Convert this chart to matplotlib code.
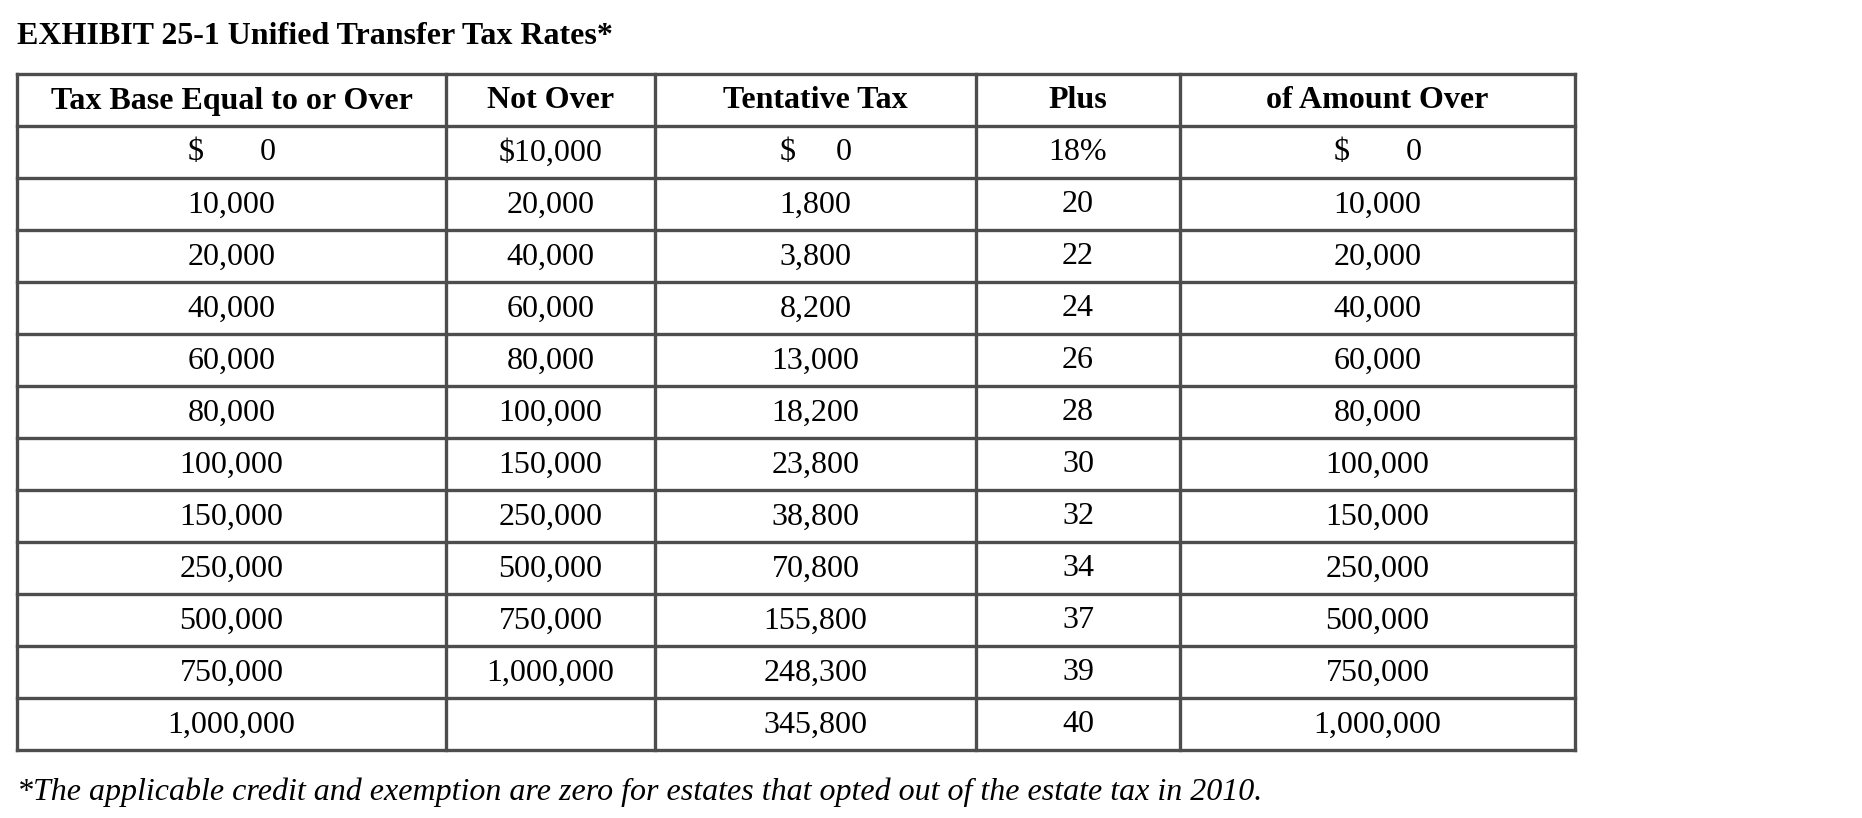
import matplotlib.pyplot as plt

title = "EXHIBIT 25-1 Unified Transfer Tax Rates*"
footnote = "*The applicable credit and exemption are zero for estates that opted out of the estate tax in 2010."
headers = ["Tax Base Equal to or Over", "Not Over", "Tentative Tax", "Plus", "of Amount Over"]

base_over = ["$       0", "10,000", "20,000", "40,000", "60,000", "80,000", "100,000",
             "150,000", "250,000", "500,000", "750,000", "1,000,000"]
not_over = ["$10,000", "20,000", "40,000", "60,000", "80,000", "100,000", "150,000",
            "250,000", "500,000", "750,000", "1,000,000", ""]
tentative = ["$     0", "1,800", "3,800", "8,200", "13,000", "18,200", "23,800",
             "38,800", "70,800", "155,800", "248,300", "345,800"]
plus = ["18%", "20", "22", "24", "26", "28", "30", "32", "34", "37", "39", "40"]
amount_over = ["$       0", "10,000", "20,000", "40,000", "60,000", "80,000", "100,000",
               "150,000", "250,000", "500,000", "750,000", "1,000,000"]

columns = [base_over, not_over, tentative, plus, amount_over]

# layout (pixels)
W, H = 1862, 818
col_edges = [17, 446, 655, 976, 1180, 1575]
top, head_bot, bottom = 74, 126, 750
n_rows = len(base_over)
row_h = (bottom - head_bot) / n_rows
row_edges = [top, head_bot] + [head_bot + row_h * (i + 1) for i in range(n_rows)]

fig = plt.figure(figsize=(W / 100, H / 100), dpi=100)
ax = fig.add_axes([0, 0, 1, 1])
ax.set_xlim(0, W)
ax.set_ylim(H, 0)
ax.axis("off")

serif = ["Liberation Serif", "DejaVu Serif"]
line_c = "#4d4d4d"
fs = 23

for y in row_edges:
    ax.plot([col_edges[0], col_edges[-1]], [y, y], color=line_c, lw=2.4, solid_capstyle="projecting")
for x in col_edges:
    ax.plot([x, x], [top, bottom], color=line_c, lw=2.4, solid_capstyle="projecting")

for j, h in enumerate(headers):
    cx = (col_edges[j] + col_edges[j + 1]) / 2
    ax.text(cx, (top + head_bot) / 2 + 1, h, family=serif, fontsize=fs, fontweight="bold",
            ha="center", va="center")
    for i, v in enumerate(columns[j]):
        cy = (row_edges[i + 1] + row_edges[i + 2]) / 2 + 1
        ax.text(cx, cy, v, family=serif, fontsize=fs, ha="center", va="center")

ax.text(17, 36, title, family=serif, fontsize=fs, fontweight="bold", ha="left", va="center")
ax.text(17, 792, footnote, family=serif, fontsize=fs, style="italic", ha="left", va="center")

fig.savefig("out.png", dpi=100, facecolor="white")
